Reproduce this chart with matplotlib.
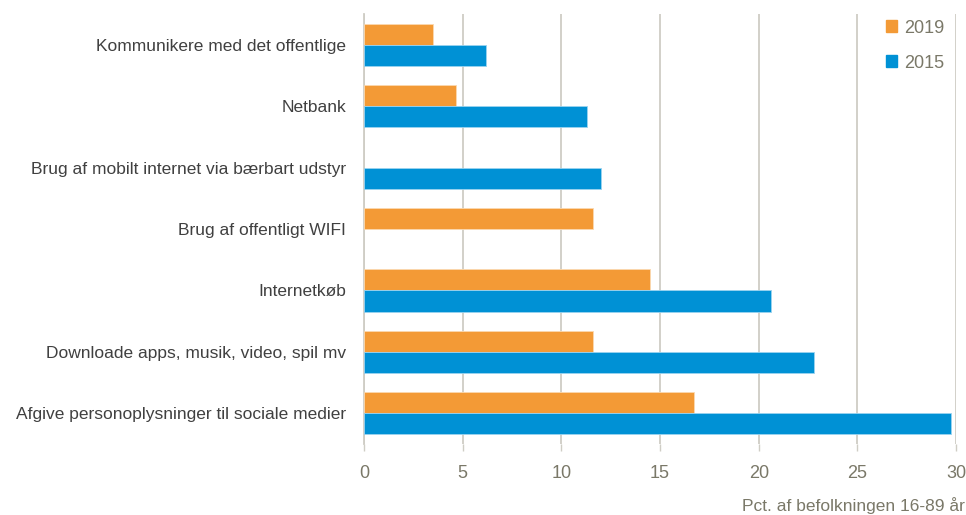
import matplotlib.pyplot as plt
import numpy as np
from matplotlib.patches import Patch

plt.rcParams['font.family'] = ['Liberation Sans Narrow', 'Liberation Sans', 'DejaVu Sans']

# data (top to bottom)
categories = ["Kommunikere med det offentlige", "Netbank",
              "Brug af mobilt internet via bærbart udstyr", "Brug af offentligt WIFI",
              "Internetkøb", "Downloade apps, musik, video, spil mv",
              "Afgive personoplysninger til sociale medier"]
v2019 = [3.5, 4.65, np.nan, 11.6, 14.5, 11.6, 16.7]
v2015 = [6.2, 11.3, 12.0, np.nan, 20.6, 22.8, 29.75]
xticks = [0, 5, 10, 15, 20, 25, 30]

orange = "#F39A36"
blue = "#0091D5"
grid_col = "#CFCDC5"
tick_col = "#7A7868"
label_col = "#404040"

fig = plt.figure(figsize=(9.66, 5.15), dpi=100)
ax = fig.add_axes([0.3768, 0.138, 0.6129, 0.8348])

y = np.arange(len(categories))
h = 0.345
ax.barh(y - h / 2, v2019, height=h, color=orange, edgecolor="#FBD9B0", linewidth=0.6, zorder=3)
ax.barh(y + h / 2, v2015, height=h, color=blue, edgecolor="#9BD3F0", linewidth=0.6, zorder=3)

ax.set_xlim(0, 30)
ax.set_ylim(len(categories) - 0.5, -0.5)
ax.set_xticks(xticks)
ax.set_yticks(y)
ax.set_yticklabels(categories, fontsize=12.5, color=label_col)
ax.tick_params(axis='y', length=0, pad=13)
ax.tick_params(axis='x', colors=grid_col, length=5, width=1, labelsize=13, labelcolor=tick_col, pad=10)
ax.grid(axis='x', color=grid_col, linewidth=1.3, zorder=0)
for s in ["top", "right", "bottom"]:
    ax.spines[s].set_visible(False)
ax.spines["left"].set_color(grid_col)
ax.spines["left"].set_linewidth(1.3)

handles = [Patch(color=orange), Patch(color=blue)]
leg = ax.legend(handles, ["2019", "2015"], loc="upper right", bbox_to_anchor=(1.008, 1.025),
                frameon=False, fontsize=13, handlelength=0.6, handleheight=0.6,
                handletextpad=0.4, labelspacing=1.0)
for t in leg.get_texts():
    t.set_color(tick_col)

fig.text(0.999, 0.002, "Pct. af befolkningen 16-89 år", ha="right", va="bottom",
         fontsize=12.5, color=tick_col)

fig.savefig("out.png", dpi=100)
